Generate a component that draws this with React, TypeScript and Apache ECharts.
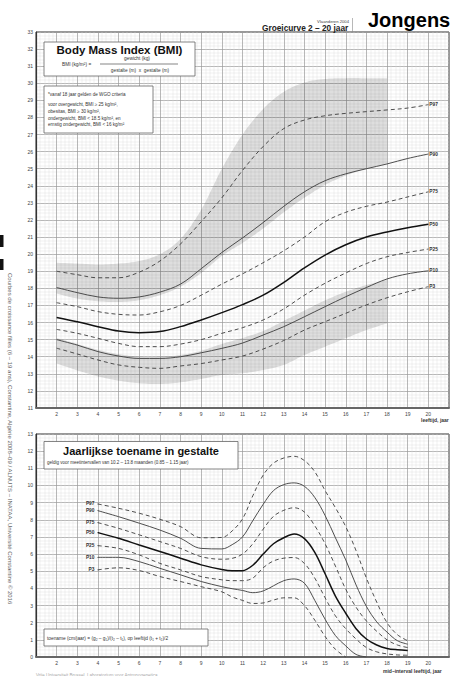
import React, { useEffect, useRef } from 'react';
import * as echarts from 'echarts';

// ---------- BMI percentile curves (age 2..20) ----------
const bmiAges = [2, 3, 4, 5, 6, 7, 8, 9, 10, 11, 12, 13, 14, 15, 16, 17, 18, 19, 20];
const bmiP97 = [19.0, 18.8, 18.62, 18.62, 18.95, 19.6, 20.6, 21.9, 23.3, 24.9, 26.3, 27.35, 27.85, 28.1, 28.24, 28.34, 28.44, 28.55, 28.75];
const bmiP90 = [18.05, 17.75, 17.5, 17.42, 17.5, 17.78, 18.25, 19.15, 20.1, 20.95, 21.85, 22.8, 23.65, 24.3, 24.7, 25.0, 25.28, 25.6, 25.86];
const bmiP75 = [17.16, 16.93, 16.64, 16.48, 16.44, 16.63, 17.0, 17.6, 18.25, 18.85, 19.5, 20.2, 21.0, 21.9, 22.45, 22.8, 23.05, 23.35, 23.65];
const bmiP50 = [16.3, 16.05, 15.76, 15.5, 15.41, 15.47, 15.76, 16.15, 16.58, 17.05, 17.6, 18.35, 19.2, 19.95, 20.55, 21.0, 21.3, 21.55, 21.75];
const bmiP25 = [15.6, 15.37, 15.08, 14.78, 14.59, 14.59, 14.74, 15.0, 15.37, 15.7, 16.15, 16.8, 17.6, 18.3, 18.9, 19.45, 19.85, 20.1, 20.3];
const bmiP10 = [15.0, 14.68, 14.3, 14.04, 13.9, 13.9, 14.0, 14.23, 14.49, 14.8, 15.27, 15.76, 16.34, 16.93, 17.51, 18.05, 18.55, 18.85, 19.03];
const bmiP3 = [14.5, 14.16, 13.81, 13.52, 13.38, 13.32, 13.46, 13.6, 13.81, 14.04, 14.45, 14.95, 15.56, 16.05, 16.54, 17.03, 17.45, 17.8, 18.1];

// ---------- shaded zones (age 2..18) ----------
const bandAges = [2, 3, 4, 5, 6, 7, 8, 9, 10, 11, 12, 13, 14, 15, 16, 17, 18];
const overLower = [17.7, 17.4, 17.25, 17.2, 17.3, 17.6, 18.1, 18.9, 19.9, 20.65, 21.5, 22.45, 23.3, 24.05, 24.6, 25.0, 25.3];
const overUpper = [19.5, 19.45, 19.4, 19.45, 19.6, 20.0, 20.9, 22.6, 25.0, 27.0, 28.5, 29.5, 30.05, 30.25, 30.3, 30.3, 30.3];
const underLower = [13.6, 13.2, 12.85, 12.6, 12.45, 12.4, 12.5, 12.7, 12.93, 13.03, 13.22, 13.52, 14.1, 14.59, 15.08, 15.56, 15.95];
const underUpper = [15.1, 14.75, 14.4, 14.15, 14.0, 14.0, 14.1, 14.35, 14.75, 15.1, 15.5, 16.1, 16.7, 17.3, 17.8, 18.2, 18.5];

// ---------- height velocity (cm/year) ----------
const velAges = [4, 5, 6, 7, 8, 9, 10, 10.5, 11, 11.5, 12, 12.5, 13, 13.5, 14, 14.5, 15, 15.5, 16, 16.5, 17, 17.5, 18, 18.5, 19];
const velP97 = [8.92, 8.67, 8.38, 8.03, 7.6, 6.95, 6.97, 7.35, 8.05, 9.4, 10.6, 11.3, 11.6, 11.7, 11.45, 10.8, 9.7, 8.7, 7.6, 6.2, 4.6, 3.2, 2.0, 1.3, 0.95];
const velP90 = [8.53, 8.18, 7.8, 7.4, 6.92, 6.33, 6.3, 6.55, 7.0, 7.95, 8.9, 9.7, 10.05, 10.15, 9.95, 9.3, 8.25, 6.95, 5.66, 4.2, 2.95, 2.05, 1.45, 0.95, 0.75];
const velP75 = [7.83, 7.5, 7.12, 6.73, 6.33, 5.85, 5.7, 5.75, 6.0, 6.6, 7.45, 8.2, 8.55, 8.7, 8.45, 7.65, 6.6, 5.3, 3.95, 2.9, 2.1, 1.5, 1.0, 0.7, 0.55];
const velP50 = [7.25, 6.92, 6.53, 6.15, 5.76, 5.37, 5.1, 5.03, 5.03, 5.35, 6.0, 6.6, 6.95, 7.17, 6.9, 6.1, 4.85, 3.55, 2.55, 1.65, 1.05, 0.7, 0.5, 0.42, 0.38];
const velP25 = [6.49, 6.33, 5.95, 5.46, 5.08, 4.69, 4.5, 4.45, 4.45, 4.6, 5.2, 5.6, 5.76, 5.8, 5.45, 4.6, 3.45, 2.4, 1.65, 1.05, 0.55, 0.3, 0.18, 0.12, 0.1];
const velAgesP10 = [4, 5, 6, 7, 8, 9, 10, 10.5, 11, 11.5, 12, 12.5, 13, 13.5, 14, 14.5, 15, 15.5, 16, 16.5, 17];
const velP10 = [5.81, 5.81, 5.56, 5.17, 4.79, 4.4, 4.1, 3.98, 3.88, 3.75, 3.85, 4.15, 4.45, 4.55, 4.3, 3.3, 2.2, 1.25, 0.65, 0.15, 0];
const velAgesP3 = [4, 5, 6, 7, 8, 9, 10, 10.5, 11, 11.5, 12, 12.5, 13, 13.5, 14, 14.5, 15, 15.5, 16];
const velP3 = [5.08, 5.2, 5.04, 4.69, 4.4, 4.1, 3.8, 3.5, 3.3, 3.12, 3.15, 3.32, 3.45, 3.45, 3.0, 2.15, 1.2, 0.45, 0];

const pctNames = ['P97', 'P90', 'P75', 'P50', 'P25', 'P10', 'P3'];

const FONT = '"Liberation Sans", Arial, Helvetica, sans-serif';

const styleFor = (name: string) => {
  if (name === 'P50') return { color: '#111', width: 1.5, type: 'solid' as any };
  if (name === 'P90' || name === 'P10') return { color: '#444', width: 0.95, type: 'solid' as any };
  return { color: '#444', width: 0.95, type: [4, 3] as any };
};

const zip = (xs: number[], ys: number[]) => xs.map((x, i) => [x, ys[i]]);

// Catmull-Rom densification of already projected pixel points (rendering only)
const spline = (pts: number[][], steps = 8) => {
  const out: number[][] = [];
  const n = pts.length;
  for (let i = 0; i < n - 1; i++) {
    const p0 = pts[Math.max(0, i - 1)];
    const p1 = pts[i];
    const p2 = pts[i + 1];
    const p3 = pts[Math.min(n - 1, i + 2)];
    for (let s = 0; s < steps; s++) {
      const t = s / steps;
      const t2 = t * t;
      const t3 = t2 * t;
      const f = (a: number, b: number, c: number, d: number) =>
        0.5 * (2 * b + (-a + c) * t + (2 * a - 5 * b + 4 * c - d) * t2 + (-a + 3 * b - 3 * c + d) * t3);
      out.push([f(p0[0], p1[0], p2[0], p3[0]), f(p0[1], p1[1], p2[1], p3[1])]);
    }
  }
  out.push(pts[n - 1]);
  return out;
};

export default function App() {
  const ref = useRef<HTMLDivElement>(null);
  useEffect(() => {
    if (!ref.current) return;
    const chart = echarts.init(ref.current, null, { renderer: 'svg' });

    const bmiSets = [bmiP97, bmiP90, bmiP75, bmiP50, bmiP25, bmiP10, bmiP3];
    const velSets: [number[], number[]][] = [
      [velAges, velP97], [velAges, velP90], [velAges, velP75], [velAges, velP50],
      [velAges, velP25], [velAgesP10, velP10], [velAgesP3, velP3],
    ];

    const bandSeries = (lower: number[], upper: number[]) => ({
      type: 'custom', xAxisIndex: 0, yAxisIndex: 0, silent: true, z: 1,
      data: [[bandAges[0], lower[0]]],
      renderItem: (_params: any, api: any) => {
        const top = upper.map((u, i) => api.coord([bandAges[i], u]));
        const bot = lower.map((l, i) => api.coord([bandAges[i], l]));
        const pts = [...spline(top), ...spline(bot).reverse()];
        return { type: 'polygon', shape: { points: pts }, style: { fill: 'rgba(0,0,0,0.13)' } };
      },
    });

    const bmiSeries = bmiSets.map((vals, k) => ({
      type: 'line', name: pctNames[k], xAxisIndex: 0, yAxisIndex: 0, smooth: 0.35, symbol: 'none',
      data: zip(bmiAges, vals), lineStyle: styleFor(pctNames[k]), z: 3,
      endLabel: {
        show: true, formatter: pctNames[k], fontSize: 4.8, fontWeight: 'bold', color: '#333',
        distance: 1, fontFamily: FONT,
      },
    }));

    const velSeries = velSets.map(([ages, vals], k) => ({
      type: 'line', name: 'v' + pctNames[k], xAxisIndex: 1, yAxisIndex: 1, smooth: 0.35,
      showSymbol: true, symbol: 'none', showAllSymbol: true,
      data: ages.map((a, i) =>
        i === 0
          ? {
              value: [a, vals[i]], symbol: 'circle', symbolSize: 1,
              itemStyle: { color: styleFor(pctNames[k]).color },
              label: {
                show: true, position: 'left', distance: 3, formatter: pctNames[k],
                fontSize: 4.8, fontWeight: 'bold', color: '#333', fontFamily: FONT,
              },
            }
          : [a, vals[i]]
      ),
      lineStyle: styleFor(pctNames[k]), z: 3,
    }));

    const xAxisBase = (gridIndex: number) => ({
      gridIndex, type: 'value', min: 1, max: 21, interval: 1,
      axisLine: { show: true, onZero: false, lineStyle: { color: '#666', width: 2 } },
      axisTick: { show: false },
      axisLabel: {
        fontSize: 5, color: '#444', margin: 3, fontFamily: FONT,
        formatter: (v: number) => (v < 2 || v > 20 ? '' : String(v)),
      },
      splitLine: { show: true, lineStyle: { color: '#9a9a9a', width: 0.7 } },
      minorTick: { show: false, splitNumber: 5 },
      minorSplitLine: { show: true, lineStyle: { color: '#dcdcdc', width: 0.4 } },
    });
    const yAxisBase = (gridIndex: number, min: number, max: number) => ({
      gridIndex, type: 'value', min, max, interval: 1,
      axisLine: { show: true, onZero: false, lineStyle: { color: '#333', width: 1.2 } },
      axisTick: { show: false },
      axisLabel: { fontSize: 5, color: '#444', margin: 3, fontFamily: FONT },
      splitLine: { show: true, lineStyle: { color: '#9a9a9a', width: 0.7 } },
      minorTick: { show: false, splitNumber: 5 },
      minorSplitLine: { show: true, lineStyle: { color: '#dcdcdc', width: 0.4 } },
    });

    const T = (x: number, y: number, text: string, fontSize: number, extra: any = {}) => ({
      type: 'text', x, y, z: 100,
      style: {
        text, fontSize, fontFamily: FONT, fill: '#222', textAlign: 'left', textVerticalAlign: 'middle',
        ...extra,
      },
    });
    const R = (x: number, y: number, w: number, h: number) => ({
      type: 'rect', z: 99, shape: { x, y, width: w, height: h },
      style: { fill: '#fff', stroke: '#666', lineWidth: 0.8 },
    });

    const graphic: any[] = [
      // header
      T(349, 21.5, 'Vlaanderen 2004', 4.2, { textAlign: 'right', fill: '#444' }),
      T(262, 27.5, 'Groeicurve 2 – 20 jaar', 8.3, { fontWeight: 'bold', fill: '#222' }),
      { type: 'line', z: 100, shape: { x1: 352.5, y1: 18, x2: 352.5, y2: 32 }, style: { stroke: '#888', lineWidth: 0.6 } },
      T(368, 29.5, 'Jongens', 20, { fontWeight: 'bold', fill: '#000', textVerticalAlign: 'bottom' }),
      // BMI title box
      R(44, 42, 151, 34),
      T(119.5, 50, 'Body Mass Index (BMI)', 11.5, { fontWeight: 'bold', textAlign: 'center', fill: '#111' }),
      T(62, 64, 'BMI (kg/m²) =', 4.8, { fill: '#333' }),
      T(137, 58.5, 'gewicht (kg)', 4.8, { textAlign: 'center', fill: '#333' }),
      { type: 'line', z: 100, shape: { x1: 100, y1: 64, x2: 178, y2: 64 }, style: { stroke: '#333', lineWidth: 0.6 } },
      T(140, 70, 'gestalte (m)  x  gestalte (m)', 4.8, { textAlign: 'center', fill: '#333' }),
      // WHO note box
      R(44, 86, 109, 47),
      T(48, 94.5, '*vanaf 18 jaar gelden de WGO criteria', 4.6, { fill: '#333' }),
      T(48, 104, 'voor overgewicht, BMI ≥ 25 kg/m²,', 4.6, { fill: '#333' }),
      T(48, 111.7, 'obesitas, BMI ≥ 30 kg/m²,', 4.6, { fill: '#333' }),
      T(48, 118.3, 'ondergewicht, BMI < 18.5 kg/m², en', 4.6, { fill: '#333' }),
      T(48, 124.5, 'ernstig ondergewicht, BMI < 16 kg/m²', 4.6, { fill: '#333' }),
      // axis names
      T(421, 420, 'leeftijd, jaar', 5, { fontWeight: 'bold', fill: '#333' }),
      T(383, 671, 'mid–interval leeftijd, jaar', 5, { fontWeight: 'bold', fill: '#333' }),
      // velocity title box
      R(44, 441.5, 194, 27.5),
      T(141, 451, 'Jaarlijkse toename in gestalte', 11, { fontWeight: 'bold', textAlign: 'center', fill: '#111' }),
      T(47, 462.7, 'geldig voor meetintervallen van 10.2 – 13.8 maanden (0.85 – 1.15 jaar)', 4.5, { fill: '#333' }),
      // formula box
      R(44, 629, 164, 17),
      T(47, 638, 'toename (cm/jaar) = (g₂ – g₁)/(t₂ – t₁), op leeftijd (t₁ + t₂)/2', 4.8, { fill: '#333' }),
      // footer
      T(36, 675, 'Vrije Universiteit Brussel, Laboratorium voor Antropogenetica', 4.5, { fill: '#aaa' }),
      // side text and marks
      {
        type: 'text', x: 10, y: 273, rotation: -Math.PI / 2, z: 100,
        style: {
          text: 'Courbes de croissance filles (6 – 19 ans), Constantine, Algérie 2008–09 / ALNUTS – INATAA, Université Constantine © 2016',
          fontSize: 6, fontFamily: FONT, fill: '#666', textAlign: 'left', textVerticalAlign: 'middle',
        },
      },
      { type: 'rect', z: 100, shape: { x: 0, y: 235, width: 3.5, height: 12 }, style: { fill: '#111' } },
      { type: 'rect', z: 100, shape: { x: 0, y: 259, width: 3.5, height: 11 }, style: { fill: '#111' } },
    ];

    chart.setOption({
      animation: false,
      textStyle: { fontFamily: FONT },
      grid: [
        { left: 36, top: 32, width: 421.4, height: 376, show: true, borderColor: '#333', borderWidth: 1, backgroundColor: '#fff' },
        { left: 36, top: 434, width: 421.4, height: 223, show: true, borderColor: '#333', borderWidth: 1, backgroundColor: '#fff' },
      ],
      xAxis: [xAxisBase(0), xAxisBase(1)],
      yAxis: [yAxisBase(0, 11, 33), yAxisBase(1, 0, 13)],
      series: [
        bandSeries(overLower, overUpper),
        bandSeries(underLower, underUpper),
        ...bmiSeries,
        ...velSeries,
      ],
      graphic,
    });
    return () => chart.dispose();
  }, []);

  return (
    <div
      ref={ref}
      style={{ position: 'absolute', left: 0, top: 0, width: 452, height: 676, background: '#fff', overflow: 'hidden' }}
    />
  );
}
